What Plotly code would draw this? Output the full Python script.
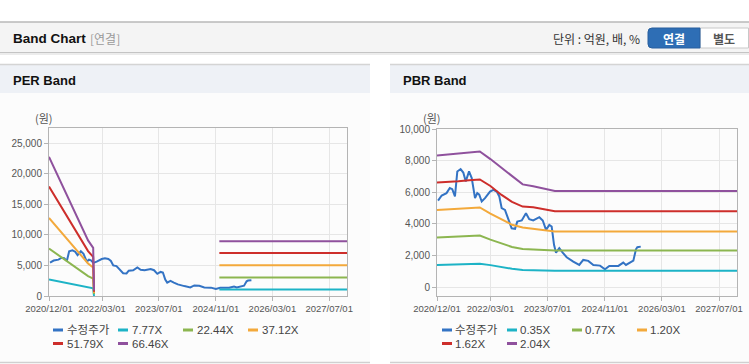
import plotly.graph_objects as go

W, H = 749, 364

# ---------------- data ----------------
price_name = "수정주가"
price_dates = ["2020-12-10", "2021-01-10", "2021-02-20", "2021-03-20", "2021-04-10", "2021-05-03",
               "2021-05-23", "2021-06-20", "2021-07-13", "2021-08-03", "2021-08-31", "2021-09-23",
               "2021-10-21", "2021-11-09", "2021-11-26", "2021-12-17", "2022-01-14", "2022-02-26",
               "2022-03-26", "2022-04-24", "2022-05-16", "2022-06-05", "2022-07-03", "2022-07-31",
               "2022-08-29", "2022-09-27", "2022-10-16", "2022-11-23", "2022-12-29", "2023-01-26",
               "2023-03-01", "2023-04-22", "2023-05-21", "2023-06-18", "2023-07-16", "2023-08-05",
               "2023-08-25", "2023-09-11", "2023-10-09", "2023-11-07", "2023-12-11", "2024-02-05",
               "2024-03-27", "2024-04-30", "2024-06-12", "2024-07-25", "2024-09-20", "2024-11-01",
               "2024-12-08", "2025-02-23", "2025-04-06", "2025-04-29", "2025-06-08", "2025-07-01",
               "2025-07-23", "2025-08-04", "2025-09-02"]
price_values = [5480, 5800, 5950, 6270, 6200, 5740, 7320, 7470, 7250, 6690, 7320, 6900,
                5630, 5950, 5850, 5420, 5630, 6050, 6160, 6050, 5740, 5000, 4890, 4370,
                3730, 3690, 4150, 4220, 4680, 4300, 4220, 4430, 4220, 3630, 3940, 3840,
                2680, 2190, 2470, 2190, 1900, 1620, 1410, 1730, 1670, 1410, 1370, 1140,
                1350, 1350, 1560, 1410, 1560, 1680, 2400, 2530, 2570]

# PER band (early segment, monthly + drop) and late segment (flat)
per_names = ["7.77X", "22.44X", "37.12X", "51.79X", "66.46X"]
per_dates_a = ["2020-12-01", "2021-01-01", "2021-02-01", "2021-03-01", "2021-04-01", "2021-05-01",
               "2021-06-01", "2021-07-01", "2021-08-01", "2021-09-01", "2021-10-01", "2021-11-01",
               "2021-12-15", "2021-12-22"]
per_values_a = [
    [2690, 2570, 2450, 2330, 2210, 2090, 1980, 1860, 1740, 1620, 1500, 1380, 1260, 0],
    [7770, 7360, 6950, 6540, 6130, 5720, 5310, 4900, 4490, 4080, 3670, 3260, 2850, 300],
    [12780, 12100, 11420, 10750, 10070, 9390, 8710, 8040, 7360, 6680, 6000, 5320, 4650, 500],
    [17930, 16950, 16000, 15050, 14100, 13100, 12150, 11200, 10250, 9250, 8300, 7350, 6390, 700],
    [22780, 21500, 20300, 19000, 17800, 16500, 15300, 14000, 12800, 11500, 10300, 9100, 7870, 900],
]
per_dates_b = ["2024-12-01", "2027-12-01"]
per_values_b = [
    [1080, 1080],
    [3040, 3040],
    [5020, 5020],
    [7020, 7020],
    [8960, 8960],
]

pbr_names = ["0.35X", "0.77X", "1.20X", "1.62X", "2.04X"]
pbr_dates = ["2020-12-01", "2021-03-01", "2021-06-01", "2021-09-01", "2021-12-01", "2022-03-01",
             "2022-06-01", "2022-09-01", "2022-12-01", "2023-03-01", "2023-06-01", "2023-09-01",
             "2027-12-01"]
pbr_values = [
    [1410, 1430, 1460, 1490, 1490, 1400, 1280, 1170, 1100, 1070, 1050, 1050, 1050],
    [3140, 3170, 3200, 3230, 3270, 3010, 2780, 2550, 2420, 2380, 2340, 2320, 2320],
    [4890, 4920, 4960, 5000, 5040, 4650, 4300, 3950, 3780, 3680, 3580, 3520, 3520],
    [6620, 6650, 6700, 6760, 6810, 6400, 5850, 5400, 5100, 5050, 4920, 4800, 4800],
    [8330, 8380, 8450, 8520, 8580, 8100, 7550, 7050, 6500, 6380, 6250, 6080, 6080],
]

x_tick_dates = ["2020-12-01", "2022-03-01", "2023-07-01", "2024-11-01", "2026-03-01", "2027-07-01"]
x_tick_labels = ["2020/12/01", "2022/03/01", "2023/07/01", "2024/11/01", "2026/03/01", "2027/07/01"]
per_y_ticks = [0, 5000, 10000, 15000, 20000, 25000]
pbr_y_ticks = [0, 2000, 4000, 6000, 8000, 10000]

price_color = "#3373c4"
band_colors = ["#1db3c6", "#8cb650", "#f3a93b", "#cd2e2b", "#8f519d"]

# ---------------- helpers ----------------
def px(x):
    return x / W

def py(y):
    return 1 - y / H

FONT = "Liberation Sans, Arial, Noto Sans CJK KR, sans-serif"
KFONT = "Noto Sans CJK KR, Liberation Sans, sans-serif"

fig = go.Figure()

# PER traces
fig.add_trace(go.Scatter(x=price_dates, y=price_values, mode="lines", name=price_name,
                         line=dict(color=price_color, width=2), xaxis="x", yaxis="y", showlegend=False))
for i, nm in enumerate(per_names):
    fig.add_trace(go.Scatter(x=per_dates_a, y=per_values_a[i], mode="lines", name=nm,
                             line=dict(color=band_colors[i], width=2), xaxis="x", yaxis="y", showlegend=False))
    fig.add_trace(go.Scatter(x=per_dates_b, y=per_values_b[i], mode="lines", name=nm,
                             line=dict(color=band_colors[i], width=2), xaxis="x", yaxis="y", showlegend=False))

# PBR traces
fig.add_trace(go.Scatter(x=price_dates, y=price_values, mode="lines", name=price_name,
                         line=dict(color=price_color, width=2), xaxis="x2", yaxis="y2", showlegend=False))
for i, nm in enumerate(pbr_names):
    fig.add_trace(go.Scatter(x=pbr_dates, y=pbr_values[i], mode="lines", name=nm,
                             line=dict(color=band_colors[i], width=2), xaxis="x2", yaxis="y2", showlegend=False))

def xaxis(domain, anchor):
    return dict(domain=domain, anchor=anchor, type="date", range=["2020-12-01", "2027-12-01"],
                tickmode="array", tickvals=x_tick_dates, ticktext=x_tick_labels,
                tickangle=0, automargin=False,
                showgrid=True, gridcolor="#e6e6e6", gridwidth=1,
                showline=True, mirror=True, linecolor="#b4b4b4", linewidth=1,
                ticks="outside", ticklen=4, tickcolor="#b4b4b4",
                tickfont=dict(size=9.5, color="#555555", family=FONT), zeroline=False)

def yaxis(domain, anchor, rng, ticks):
    return dict(domain=domain, anchor=anchor, range=rng, tickmode="array", tickvals=ticks,
                ticktext=[f"{t:,}" for t in ticks], automargin=False,
                showgrid=True, gridcolor="#e6e6e6", gridwidth=1,
                showline=True, mirror=True, linecolor="#b4b4b4", linewidth=1,
                ticks="outside", ticklen=4, tickcolor="#b4b4b4",
                tickfont=dict(size=10, color="#555555", family=FONT), zeroline=False)

shapes = []
annotations = []

# top header bar
shapes.append(dict(type="rect", xref="paper", yref="paper", x0=0, x1=1, y0=py(52), y1=py(22),
                   fillcolor="#f4f4f4", line=dict(width=0), layer="below"))
shapes.append(dict(type="line", xref="paper", yref="paper", x0=0, x1=1, y0=py(22), y1=py(22),
                   line=dict(color="#b9b9b9", width=1.5), layer="below"))
shapes.append(dict(type="line", xref="paper", yref="paper", x0=0, x1=1, y0=py(52.5), y1=py(52.5),
                   line=dict(color="#c4c4c4", width=1.2), layer="below"))
shapes.append(dict(type="line", xref="paper", yref="paper", x0=0, x1=1, y0=py(54), y1=py(54),
                   line=dict(color="#ececec", width=2), layer="below"))

# panels
for (xa, xb) in [(0, 370), (390, 749)]:
    shapes.append(dict(type="rect", xref="paper", yref="paper", x0=px(xa), x1=px(xb), y0=py(362), y1=py(93),
                       fillcolor="#fcfcfc", line=dict(width=0), layer="below"))
    shapes.append(dict(type="rect", xref="paper", yref="paper", x0=px(xa), x1=px(xb), y0=py(93), y1=py(64.5),
                       fillcolor="#eef1f6", line=dict(width=0), layer="below"))
    shapes.append(dict(type="line", xref="paper", yref="paper", x0=px(xa), x1=px(xb), y0=py(64.5), y1=py(64.5),
                       line=dict(color="#d4d4d4", width=1.5), layer="below"))
    shapes.append(dict(type="line", xref="paper", yref="paper", x0=px(xa), x1=px(xb), y0=py(362.5), y1=py(362.5),
                       line=dict(color="#d0d0d0", width=1.5), layer="below"))

# buttons
def rounded_left(x0, y0, x1, y1, r):
    return (f"M {px(x0 + r)},{py(y0)} L {px(x1)},{py(y0)} L {px(x1)},{py(y1)} L {px(x0 + r)},{py(y1)} "
            f"Q {px(x0)},{py(y1)} {px(x0)},{py(y1 - r)} L {px(x0)},{py(y0 + r)} "
            f"Q {px(x0)},{py(y0)} {px(x0 + r)},{py(y0)} Z")

shapes.append(dict(type="rect", xref="paper", yref="paper", x0=px(700), x1=px(748.5), y0=py(48), y1=py(28),
                   fillcolor="#ffffff", line=dict(color="#c8c8c8", width=1)))
shapes.append(dict(type="path", xref="paper", yref="paper", path=rounded_left(648, 28, 700, 48, 4),
                   fillcolor="#2e6eb5", line=dict(color="#285f9e", width=1)))

annotations += [
    dict(text="<b>Band Chart</b>", x=px(11), y=py(39), xref="paper", yref="paper", xanchor="left",
         yanchor="middle", showarrow=False, font=dict(size=13.5, color="#111111", family=FONT)),
    dict(text="[연결]", x=px(88), y=py(39), xref="paper", yref="paper", xanchor="left",
         yanchor="middle", showarrow=False, font=dict(size=12, color="#9a9a9a", family=KFONT)),
    dict(text="단위 : 억원, 배, %", x=px(642), y=py(38.5), xref="paper", yref="paper", xanchor="right",
         yanchor="middle", showarrow=False, font=dict(size=12, color="#333333", family=KFONT)),
    dict(text="<b>연결</b>", x=px(674), y=py(38.5), xref="paper", yref="paper", xanchor="center",
         yanchor="middle", showarrow=False, font=dict(size=12, color="#ffffff", family=KFONT)),
    dict(text="<b>별도</b>", x=px(724), y=py(38.5), xref="paper", yref="paper", xanchor="center",
         yanchor="middle", showarrow=False, font=dict(size=12, color="#555555", family=KFONT)),
    dict(text="<b>PER Band</b>", x=px(11), y=py(80), xref="paper", yref="paper", xanchor="left",
         yanchor="middle", showarrow=False, font=dict(size=13, color="#111111", family=FONT)),
    dict(text="<b>PBR Band</b>", x=px(401), y=py(80), xref="paper", yref="paper", xanchor="left",
         yanchor="middle", showarrow=False, font=dict(size=13, color="#111111", family=FONT)),
    dict(text="(원)", x=px(44), y=py(118), xref="paper", yref="paper", xanchor="center",
         yanchor="middle", showarrow=False, font=dict(size=11, color="#555555", family=KFONT)),
    dict(text="(원)", x=px(432), y=py(118), xref="paper", yref="paper", xanchor="center",
         yanchor="middle", showarrow=False, font=dict(size=11, color="#555555", family=KFONT)),
]

# custom legends
def add_legend(x_start, names, colors, text_gap):
    col_w = 65
    rows = [330, 343.5]
    for k, (nm, col) in enumerate(zip(names, colors)):
        r, c = divmod(k, 4)
        x0 = x_start + c * col_w
        yy = rows[r]
        shapes.append(dict(type="line", xref="paper", yref="paper", x0=px(x0), x1=px(x0 + 10),
                           y0=py(yy), y1=py(yy), line=dict(color=col, width=3)))
        annotations.append(dict(text=nm, x=px(x0 + 10 + text_gap), y=py(yy), xref="paper", yref="paper",
                                xanchor="left", yanchor="middle", showarrow=False,
                                font=dict(size=11.5, color="#444444", family=FONT)))

add_legend(53, [price_name] + per_names, [price_color] + band_colors, 2)
add_legend(442, [price_name] + pbr_names, [price_color] + band_colors, 1)

fig.update_layout(
    width=W, height=H, margin=dict(l=0, r=0, t=0, b=0, autoexpand=False),
    paper_bgcolor="#ffffff", plot_bgcolor="rgba(0,0,0,0)",
    font=dict(family=FONT),
    showlegend=False,
    xaxis=xaxis([px(49), px(347)], "y"),
    yaxis=yaxis([py(296), py(128)], "x", [0, 27500], per_y_ticks),
    xaxis2=xaxis([px(437), px(737)], "y2"),
    yaxis2=yaxis([py(296), py(129)], "x2", [-550, 10000], pbr_y_ticks),
    shapes=shapes, annotations=annotations,
)

fig.write_html("out.html", config={"displayModeBar": False},
               post_script="document.body.style.margin='0';document.body.style.overflow='hidden';")
